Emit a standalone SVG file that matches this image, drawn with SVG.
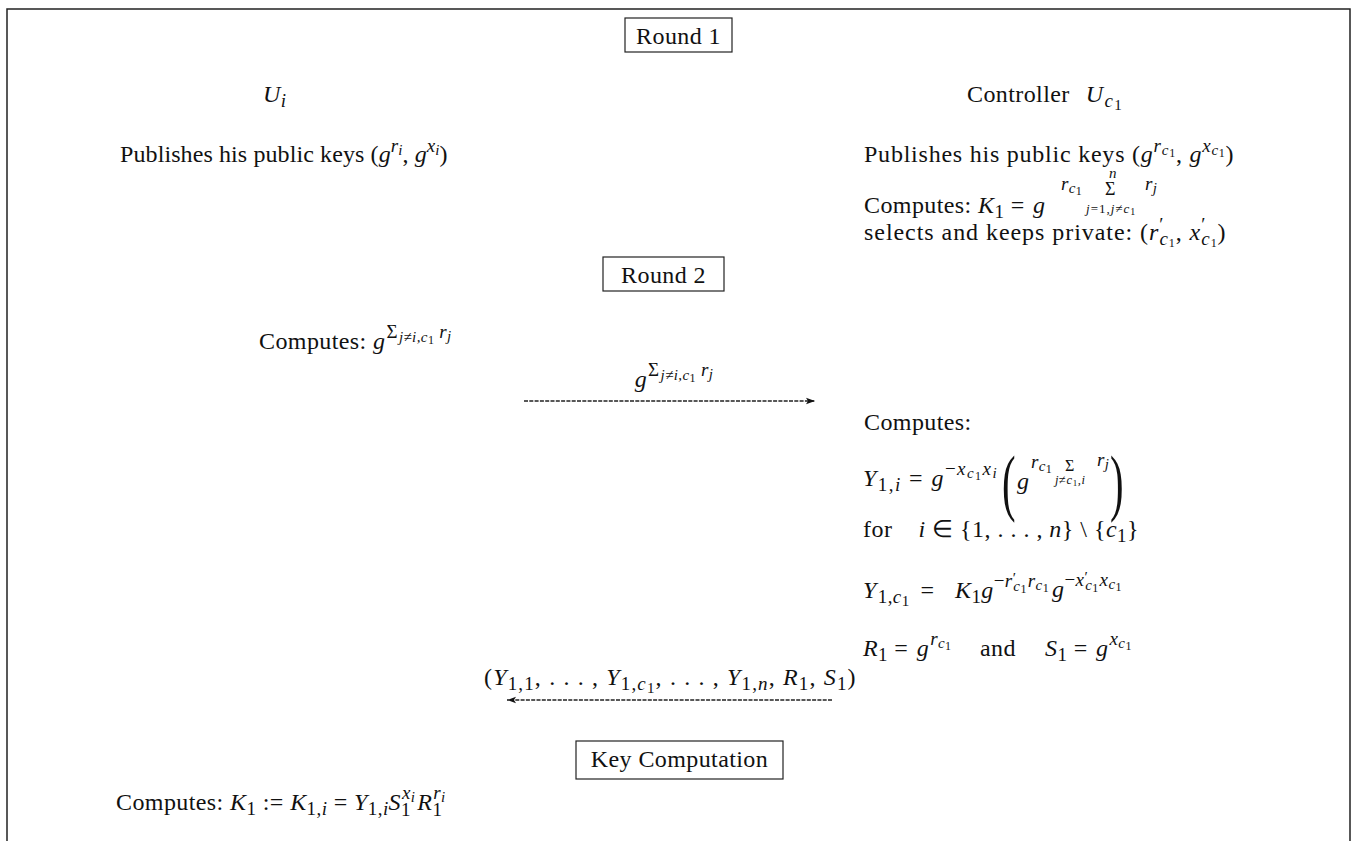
<svg xmlns="http://www.w3.org/2000/svg" width="1352" height="841" viewBox="0 0 1352 841">
<style>
.t{font-family:"Liberation Serif",serif;font-size:24px;letter-spacing:0.4px;fill:#111}
.m{font-style:italic}
.n{font-style:normal}
.a{font-size:19px}
.b{font-size:15px}
.c{font-size:12px}
.box{fill:none;stroke:#222;stroke-width:1.2}
.arr{fill:none;stroke:#222;stroke-width:1.3;stroke-dasharray:4 1.3}
</style>
<defs>
<marker id="ah" markerWidth="10" markerHeight="8" refX="9" refY="4" orient="auto" markerUnits="userSpaceOnUse">
<path d="M0,0.8 L9,4 L0,7.2 L2,4 z" fill="#111"/>
</marker>
</defs>
<rect width="1352" height="841" fill="#fff"/>
<path d="M7,845 V9 H1350 V845" fill="none" stroke="#222" stroke-width="1.5"/>

<g id="round1">
<rect class="box" x="625" y="18" width="107" height="34"/>
<text class="t" x="678.5" y="44" text-anchor="middle">Round 1</text>
</g>

<g id="party-ui">
<text class="t m" x="263" y="102">U<tspan class="a" dy="5">i</tspan></text>
<text class="t" x="120" y="162" textLength="328" lengthAdjust="spacing">Publishes his public keys (<tspan class="m">g</tspan><tspan class="m a" dy="-10">r</tspan><tspan class="m b" dy="3">i</tspan><tspan dy="7">, </tspan><tspan class="m">g</tspan><tspan class="m a" dy="-10">x</tspan><tspan class="m b" dy="3">i</tspan><tspan dy="7">)</tspan></text>
</g>

<g id="controller">
<text class="t" x="967" y="102">Controller<tspan class="m" dx="16">U</tspan><tspan class="m a" dx="1" dy="5">c</tspan><tspan class="b" dx="1" dy="3">1</tspan></text>
<text class="t" x="864" y="162" textLength="370" lengthAdjust="spacing">Publishes his public keys (<tspan class="m">g</tspan><tspan class="m a" dy="-10">r</tspan><tspan class="m b" dy="3">c</tspan><tspan class="c" dy="2">1</tspan><tspan dy="5">, </tspan><tspan class="m">g</tspan><tspan class="m a" dy="-10">x</tspan><tspan class="m b" dy="3">c</tspan><tspan class="c" dy="2">1</tspan><tspan dy="5">)</tspan></text>
<text class="t" x="864" y="213">Computes: <tspan class="m">K</tspan><tspan class="a" dy="5">1</tspan><tspan dy="-5"> = </tspan><tspan class="m" dx="2">g</tspan></text>
<text class="t m a" x="1061" y="190">r<tspan class="b" dy="3">c</tspan><tspan class="c n" dy="2">1</tspan></text>
<text class="t m b" x="1109" y="178">n</text>
<text class="t" x="1105" y="195" style="font-size:18px">Σ</text>
<text class="t m" x="1086" y="213" style="font-size:13px;letter-spacing:1px">j<tspan class="n">=1,</tspan>j<tspan class="n">≠</tspan>c<tspan dy="2" class="n" style="font-size:10px">1</tspan></text>
<text class="t m a" x="1145" y="190">r<tspan class="b" dy="3">j</tspan></text>
<text class="t" x="864" y="240" textLength="362" lengthAdjust="spacing">selects and keeps private: (<tspan class="m">r</tspan><tspan class="a" dy="-9">′</tspan><tspan class="m a" dx="-5" dy="14">c</tspan><tspan class="c" dy="2">1</tspan><tspan dy="-7">, </tspan><tspan class="m">x</tspan><tspan class="a" dy="-9">′</tspan><tspan class="m a" dx="-5" dy="14">c</tspan><tspan class="c" dy="2">1</tspan><tspan dy="-7">)</tspan></text>
</g>

<g id="round2">
<rect class="box" x="603" y="257" width="121" height="34"/>
<text class="t" x="663.5" y="283" text-anchor="middle">Round 2</text>
</g>

<g id="ui-compute">
<text class="t" x="259" y="349">Computes: <tspan class="m">g</tspan><tspan class="a" dx="1" dy="-11">Σ</tspan><tspan class="m b" dx="1" dy="4">j</tspan><tspan class="b">≠</tspan><tspan class="m b">i,c</tspan><tspan class="c" dy="2">1</tspan><tspan class="m a" dx="5" dy="-6">r</tspan><tspan class="m b" dy="3">j</tspan></text>
</g>

<g id="controller-compute">
<text class="t" x="864" y="430">Computes:</text>
<text class="t" x="863" y="486" textLength="134" lengthAdjust="spacing"><tspan class="m">Y</tspan><tspan class="a" dy="5">1,</tspan><tspan class="m a">i</tspan><tspan dy="-5"> = </tspan><tspan class="m">g</tspan><tspan class="a" dy="-11">−</tspan><tspan class="m a">x</tspan><tspan class="m b" dy="3">c</tspan><tspan class="c" dy="2">1</tspan><tspan class="m a" dy="-5">x</tspan><tspan class="m b" dy="3">i</tspan></text>
<text class="t" transform="translate(1002,507) scale(0.55,1)" style="font-size:74px">(</text>
<text class="t m" x="1017" y="489">g</text>
<text class="t m a" x="1031" y="468">r<tspan class="b" dy="3">c</tspan><tspan class="c n" dy="2">1</tspan></text>
<text class="t" x="1065" y="471" style="font-size:16px">Σ</text>
<text class="t m" x="1055" y="484" style="font-size:12.5px;letter-spacing:0.6px">j<tspan class="n">≠</tspan>c<tspan dy="2" class="n" style="font-size:9px">1</tspan><tspan dy="-2">,i</tspan></text>
<text class="t m a" x="1097" y="466">r<tspan class="b" dy="3">j</tspan></text>
<text class="t" transform="translate(1110,507) scale(0.55,1)" style="font-size:74px">)</text>
<text class="t" x="863" y="537" textLength="276" lengthAdjust="spacing">for<tspan class="m" dx="26">i</tspan> ∈ {1, . . . , <tspan class="m">n</tspan>} \ {<tspan class="m">c</tspan><tspan class="a" dy="5">1</tspan><tspan dy="-5">}</tspan></text>
<text class="t" x="863" y="598"><tspan class="m">Y</tspan><tspan class="a" dx="1" dy="5">1,</tspan><tspan class="m a">c</tspan><tspan class="b" dy="3">1</tspan><tspan dx="11" dy="-8">=</tspan></text>
<text class="t" x="955" y="598"><tspan class="m">K</tspan><tspan class="a" dy="5">1</tspan><tspan class="m" dy="-5">g</tspan><tspan class="a" dy="-11">−</tspan><tspan class="m a">r</tspan><tspan class="b" dy="-4">′</tspan><tspan class="m b" dx="-3" dy="8">c</tspan><tspan class="c" dy="2">1</tspan><tspan class="m a" dx="1" dy="-6">r</tspan><tspan class="m b" dy="3">c</tspan><tspan class="c" dy="2">1</tspan><tspan class="m" dy="5" dx="3">g</tspan><tspan class="a" dy="-11">−</tspan><tspan class="m a">x</tspan><tspan class="b" dy="-4">′</tspan><tspan class="m b" dx="-3" dy="8">c</tspan><tspan class="c" dy="2">1</tspan><tspan class="m a" dx="1" dy="-6">x</tspan><tspan class="m b" dy="3">c</tspan><tspan class="c" dy="2">1</tspan></text>
<text class="t" x="863" y="656"><tspan class="m">R</tspan><tspan class="a" dy="5">1</tspan><tspan dy="-5"> = </tspan><tspan class="m" dx="2">g</tspan><tspan class="m a" dx="1" dy="-11">r</tspan><tspan class="m b" dy="3">c</tspan><tspan class="c" dy="2">1</tspan></text>
<text class="t" x="980" y="656">and</text>
<text class="t" x="1045" y="656"><tspan class="m">S</tspan><tspan class="a" dy="5">1</tspan><tspan dy="-5"> = </tspan><tspan class="m" dx="2">g</tspan><tspan class="m a" dx="1" dy="-11">x</tspan><tspan class="m b" dy="3">c</tspan><tspan class="c" dy="2">1</tspan></text>
</g>

<g id="connectors">
<text class="t" x="674" y="387" text-anchor="middle"><tspan class="m">g</tspan><tspan class="a" dx="1" dy="-11">Σ</tspan><tspan class="m b" dx="1" dy="4">j</tspan><tspan class="b">≠</tspan><tspan class="m b">i,c</tspan><tspan class="c" dy="2">1</tspan><tspan class="m a" dx="5" dy="-6">r</tspan><tspan class="m b" dy="3">j</tspan></text>
<line class="arr" x1="524" y1="401" x2="815" y2="401" marker-end="url(#ah)"/>
<text class="t" x="670" y="685" text-anchor="middle" textLength="372" lengthAdjust="spacing">(<tspan class="m">Y</tspan><tspan class="a" dy="5">1,1</tspan><tspan dy="-5">, . . . , </tspan><tspan class="m">Y</tspan><tspan class="a" dy="5">1,</tspan><tspan class="m a">c</tspan><tspan class="b" dy="3">1</tspan><tspan dy="-8">, . . . , </tspan><tspan class="m">Y</tspan><tspan class="a" dy="5">1,</tspan><tspan class="m a">n</tspan><tspan dy="-5">, </tspan><tspan class="m">R</tspan><tspan class="a" dy="5">1</tspan><tspan dy="-5">, </tspan><tspan class="m">S</tspan><tspan class="a" dy="5">1</tspan><tspan dy="-5">)</tspan></text>
<line class="arr" x1="832" y1="700" x2="507" y2="700" marker-end="url(#ah)"/>
</g>

<g id="keycomp">
<rect class="box" x="576" y="741" width="207" height="38"/>
<text class="t" x="679.5" y="767" text-anchor="middle">Key Computation</text>
</g>

<g id="ui-key">
<text class="t" x="116" y="810">Computes: <tspan class="m">K</tspan><tspan class="a" dy="5">1</tspan><tspan dy="-5"> := </tspan><tspan class="m">K</tspan><tspan class="a" dy="5">1,</tspan><tspan class="m a">i</tspan><tspan dy="-5"> = </tspan><tspan class="m">Y</tspan><tspan class="a" dy="5">1,</tspan><tspan class="m a">i</tspan><tspan class="m" dy="-5">S</tspan><tspan class="a" dy="6">1</tspan><tspan class="m a" dx="-9" dy="-17">x</tspan><tspan class="m b" dy="3">i</tspan><tspan class="m" dx="2" dy="8">R</tspan><tspan class="a" dy="6">1</tspan><tspan class="m a" dx="-9" dy="-17">r</tspan><tspan class="m b" dy="3">i</tspan></text>
</g>
</svg>
